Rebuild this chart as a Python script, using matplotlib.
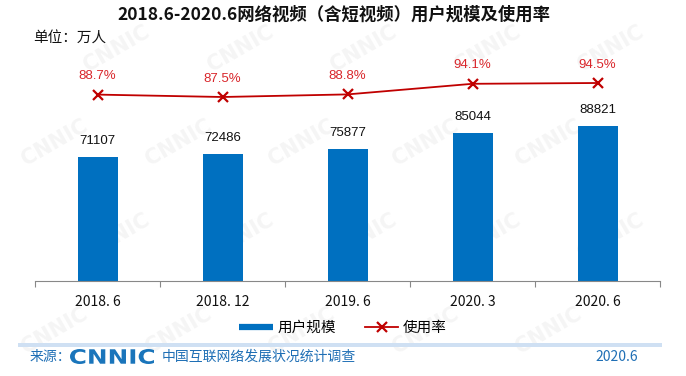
import numpy as np
import matplotlib
matplotlib.use("Agg")
import matplotlib.pyplot as plt
from matplotlib.lines import Line2D
from matplotlib.textpath import TextPath
from matplotlib.patches import PathPatch
from matplotlib.font_manager import FontProperties
from matplotlib.transforms import Affine2D, IdentityTransform

plt.rcParams['font.family'] = ['Noto Sans CJK SC', 'DejaVu Sans']

periods = ["2018. 6", "2018. 12", "2019. 6", "2020. 3", "2020. 6"]
users = [71107, 72486, 75877, 85044, 88821]          # 万人
usage_rate = [88.7, 87.5, 88.8, 94.1, 94.5]          # %

blue = "#0070C0"
red = "#C00000"
red_txt = "#D9262B"
foot_blue = "#1F6FB5"

W, H = 686, 376
fig = plt.figure(figsize=(W / 100, H / 100), dpi=100)

# faint watermark
for row, yy in enumerate(np.arange(0.12, 0.95, 0.25)):
    for xx in np.arange(0.08 + 0.09 * (row % 2), 0.93, 0.18):
        fig.text(xx, yy, "CNNIC", fontsize=15, fontweight="bold", color="#f5f5f5",
                 rotation=30, ha="center", va="center", zorder=-5, family="DejaVu Sans")

ax = fig.add_axes([35 / W, 1 - 281 / H, 625 / W, 226 / H])
ax.patch.set_visible(False)
x = np.arange(len(periods))
ax.bar(x, users, width=0.32, color=blue, zorder=2)
for xi, v in zip(x, users):
    ax.text(xi, v + 9200, str(v), ha="center", va="center", fontsize=9.5,
            family="Liberation Sans", color="#111111")
ax.set_xlim(-0.5, len(periods) - 0.5)
ax.set_ylim(0, 129500)
ax.set_yticks([])
ax.set_xticks(np.arange(-0.5, len(periods), 1.0))
ax.set_xticklabels([])
ax.set_xticks(x, minor=True)
ax.set_xticklabels(periods, minor=True, fontsize=10, color="#111111")
ax.tick_params(axis="x", which="major", length=4, color="#888888", width=0.8)
ax.tick_params(axis="x", which="minor", length=0, pad=10)
for s in ["top", "right", "left"]:
    ax.spines[s].set_visible(False)
ax.spines["bottom"].set_color("#888888")
ax.spines["bottom"].set_linewidth(0.8)

ax2 = ax.twinx()
ax2.plot(x, usage_rate, color=red, lw=1.3, marker="x", ms=7, mew=1.6, zorder=3)
for xi, v in zip(x, usage_rate):
    ax2.text(xi, v + 9.2, f"{v}%", ha="center", va="center", fontsize=9.5,
             family="Liberation Sans", color=red_txt)
ax2.set_ylim(-4.5, 108.5)
ax2.set_yticks([])
for s in ax2.spines.values():
    s.set_visible(False)

handles = [Line2D([], [], color=blue, lw=4.5, solid_capstyle="butt"),
           Line2D([], [], color=red, lw=1.3, marker="x", ms=7, mew=1.6)]
fig.legend(handles, ["用户规模", "使用率"], loc="center", ncol=2,
           bbox_to_anchor=(343 / W, 1 - 328 / H), frameon=False,
           fontsize=10.5, handlelength=2.3, handletextpad=0.3, columnspacing=2.0)

fig.text(333.5 / W, 1 - 15 / H, "2018.6-2020.6网络视频（含短视频）用户规模及使用率",
         ha="center", va="center", fontsize=12.5, fontweight="bold", color="#111111")
fig.text(33 / W, 1 - 39 / H, "单位：万人", ha="left", va="center",
         fontsize=10.5, color="#111111")

# footer
fig.patches.append(plt.Rectangle((18 / W, 1 - 347 / H), 644 / W, 4 / H,
                                 transform=fig.transFigure, color="#cfe0f3", lw=0))
fig.text(30 / W, 1 - 357 / H, "来源：", ha="left", va="center", fontsize=10, color=foot_blue)

# CNNIC logo stretched into its box (pixel coords, origin bottom-left)
tp = TextPath((0, 0), "CNNIC", size=10, prop=FontProperties(family="DejaVu Sans", weight="bold"))
ext = tp.get_extents()
x0, x1, ytop, ybot = 70, 154, 349, 364
sx = (x1 - x0) / ext.width
sy = (ybot - ytop) / ext.height
logo_tf = (Affine2D().translate(-ext.x0, -ext.y0).scale(sx, sy)
           .translate(x0, H - ybot) + IdentityTransform())
fig.patches.append(PathPatch(tp, transform=logo_tf, color="#1A75BB", lw=0))

fig.text(162 / W, 1 - 357 / H, "中国互联网络发展状况统计调查", ha="left", va="center",
         fontsize=10, color=foot_blue)
fig.text(617 / W, 1 - 357 / H, "2020.6", ha="center", va="center", fontsize=10,
         color=foot_blue)

fig.savefig("out.png", dpi=100)
